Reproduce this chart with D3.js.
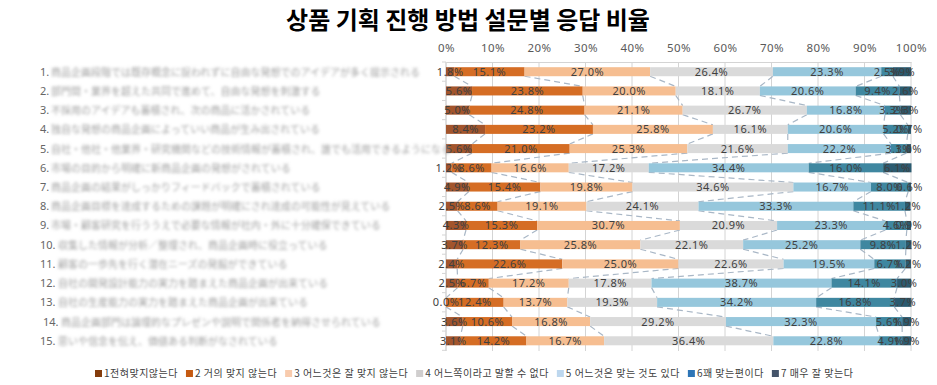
<!DOCTYPE html>
<html>
<head>
<meta charset="utf-8">
<script src="https://cdn.jsdelivr.net/npm/d3@7"></script>
<style>
  body { margin: 0; background: #fff; }
  svg { display: block; }
</style>
</head>
<body>
<div id="chart"></div>
<script>
const title = "상품 기획 진행 방법 설문별 응답 비율"

const questions = [
    "商品企画段階では既存概念に捉われずに自由な発想でのアイデアが多く提示される",
    "部門間・業界を超えた共同で進めて、自由な発想を刺激する",
    "不採用のアイデアも蓄積され、次の商品に活かされている",
    "独自な発想の商品企画によっていい商品が生み出されている",
    "自社・他社・他業界・研究機関などの技術情報が蓄積され、誰でも活用できるようになる",
    "市場の目的から明確に新商品企画の発想がされている",
    "商品企画の結果がしっかりフィードバックで蓄積されている",
    "商品企画目標を達成するための課題が明確にされ達成の可能性が見えている",
    "市場・顧客研究を行ううえで必要な情報が社内・外に十分確保できている",
    "収集した情報が分析／整理され、商品企画時に役立っている",
    "顧客の一歩先を行く潜在ニーズの発掘ができている",
    "自社の開発設計能力の実力を踏まえた商品企画が出来ている",
    "自社の生産能力の実力を踏まえた商品企画が出来ている",
    "商品企画部門は論理的なプレゼンや説明で関係者を納得させられている",
    "思いや信念を伝え、価値ある判断がなされている"
]

const categories = [
    "1전혀맞지않는다",
    "2 거의 맞지 않는다",
    "3 어느것은 잘 맞지 않는다",
    "4 어느쪽이라고 말할 수 없다",
    "5 어느것은 맞는 것도 있다",
    "6꽤 맞는편이다",
    "7 매우 잘 맞는다"
]

// one array per answer, one value per question (%)
const s1 = [1.8, 5.6, 5.0, 8.4, 5.6, 1.2, 4.9, 2.5, 4.3, 3.7, 2.4, 2.5, 0.0, 3.6, 3.1]
const s2 = [15.1, 23.8, 24.8, 23.2, 21.0, 8.6, 15.4, 8.6, 15.3, 12.3, 22.6, 6.7, 12.4, 10.6, 14.2]
const s3 = [27.0, 20.0, 21.1, 25.8, 25.3, 16.6, 19.8, 19.1, 30.7, 25.8, 25.0, 17.2, 13.7, 16.8, 16.7]
const s4 = [26.4, 18.1, 26.7, 16.1, 21.6, 17.2, 34.6, 24.1, 20.9, 22.1, 22.6, 17.8, 19.3, 29.2, 36.4]
const s5 = [23.3, 20.6, 16.8, 20.6, 22.2, 34.4, 16.7, 33.3, 23.3, 25.2, 19.5, 38.7, 34.2, 32.3, 22.8]
const s6 = [2.5, 9.4, 3.3, 5.2, 3.3, 16.0, 8.0, 11.1, 4.6, 9.8, 6.7, 14.1, 16.8, 5.6, 4.9]
const s7 = [3.9, 2.6, 2.3, 0.7, 1.0, 6.1, 0.6, 1.2, 0.9, 1.2, 1.2, 3.0, 3.7, 1.9, 1.9]

const xTicks = [0, 10, 20, 30, 40, 50, 60, 70, 80, 90, 100]

const barColors = ["#a3552c", "#d56d24", "#f6be91", "#dadada", "#96c7dc", "#3f87a0", "#2b5b70"]
const legendColors = ["#843c0c", "#c55a11", "#f8cbad", "#d0cece", "#bdd7ee", "#2e75b6", "#44546a"]

let svg_width = 937
let svg_height = 385

var margin = { top: 62, right: 26, bottom: 34, left: 446 },
    width = svg_width - margin.left - margin.right,
    height = svg_height - margin.top - margin.bottom;

const series = [s1, s2, s3, s4, s5, s6, s7]
const keys = categories.map((c, i) => "k" + i)
const rows = questions.map((q, i) => {
    let r = { name: q, idx: i }
    keys.forEach((k, j) => r[k] = series[j][i])
    return r
})
const stacked = d3.stack().keys(keys)(rows)

var root = d3.select("#chart")
    .append("svg")
    .attr("width", svg_width)
    .attr("height", svg_height)

root.append("defs").append("filter")
    .attr("id", "blur")
    .append("feGaussianBlur")
    .attr("stdDeviation", 1.5)

root.append("text")
    .attr("x", 468)
    .attr("y", 29)
    .attr("text-anchor", "middle")
    .style("font-family", "'Noto Sans CJK KR', sans-serif")
    .style("font-weight", "bold")
    .style("font-size", "24px")
    .style("fill", "#000")
    .text(title)

var svg = root.append("g")
    .attr("transform", "translate(" + margin.left + "," + margin.top + ")");

var xScale = d3.scaleLinear()
    .domain([0, 100])
    .range([0, width]);

var yScale = d3.scaleBand()
    .domain(d3.range(questions.length))
    .range([0, height - 0.5])
    .paddingInner(0.53)
    .paddingOuter(0.27);

// vertical grid lines
svg.append("g").selectAll("line").data(xTicks)
    .enter().append("line")
    .attr("x1", d => xScale(d))
    .attr("x2", d => xScale(d))
    .attr("y1", 0)
    .attr("y2", height)
    .style("stroke", "#d4d4d4")
    .style("stroke-width", 1);

// top axis labels
var xAxis = svg.append("g")
    .call(d3.axisTop(xScale).tickValues(xTicks).tickSize(0).tickPadding(10).tickFormat(d => d + "%"))
xAxis.select(".domain").attr("stroke", "#d4d4d4")
xAxis.selectAll("text")
    .style("font-family", "'Noto Sans', sans-serif")
    .style("font-size", "11.5px")
    .style("letter-spacing", "0.5px")
    .style("fill", "#595959")

// left category axis
svg.append("line")
    .attr("x1", 0).attr("x2", 0)
    .attr("y1", 0).attr("y2", height)
    .style("stroke", "#d4d4d4")
svg.append("g").selectAll("line").data(d3.range(questions.length + 1))
    .enter().append("line")
    .attr("x1", -4).attr("x2", 0)
    .attr("y1", d => d * yScale.step())
    .attr("y2", d => d * yScale.step())
    .style("stroke", "#d4d4d4")

// series lines (dashed connectors)
let bh = yScale.bandwidth()
let connectors = []
stacked.slice(0, 6).forEach(layer => {
    for (let i = 0; i < layer.length - 1; i++) {
        connectors.push({ a: layer[i][1], b: layer[i + 1][1], i: i })
    }
})
svg.append("g").selectAll("line").data(connectors)
    .enter().append("line")
    .attr("x1", d => xScale(d.a))
    .attr("y1", d => yScale(d.i) + bh)
    .attr("x2", d => xScale(d.b))
    .attr("y2", d => yScale(d.i + 1))
    .style("stroke", "#a9b7c6")
    .style("stroke-width", 1.2)
    .style("stroke-dasharray", "6,4");

// bars
svg.append("g").selectAll("g").data(stacked)
    .enter().append("g")
    .style("fill", (d, i) => barColors[i])
    .selectAll("rect").data(d => d)
    .enter().append("rect")
    .attr("x", d => xScale(d[0]))
    .attr("width", d => xScale(d[1]) - xScale(d[0]))
    .attr("y", (d, i) => yScale(i))
    .attr("height", bh);

// value labels
svg.append("g").selectAll("g").data(stacked)
    .enter().append("g")
    .selectAll("text").data(d => d)
    .enter().append("text")
    .attr("x", d => xScale((d[0] + d[1]) / 2))
    .attr("y", (d, i) => yScale(i) + bh / 2 + 4)
    .attr("text-anchor", "middle")
    .style("font-family", "'Noto Sans', sans-serif")
    .style("font-size", "11px")
    .style("letter-spacing", "0.5px")
    .style("fill", "#404040")
    .text(d => (d[1] - d[0]).toFixed(1) + "%");

// row labels (number + blurred question text)
let labels = root.append("g").selectAll("g").data(rows)
    .enter().append("g")
    .attr("transform", d => "translate(" + (d.idx == 13 ? 43 : 40) + "," + (margin.top + yScale(d.idx) + bh / 2 + 4) + ")")
labels.append("text")
    .style("font-family", "'Noto Sans', sans-serif")
    .style("font-size", "11px")
    .style("fill", "#666")
    .text(d => (d.idx + 1) + ".")
labels.append("text")
    .attr("x", d => d.idx < 9 ? 11 : 18)
    .attr("filter", "url(#blur)")
    .style("font-family", "'Noto Sans CJK JP', sans-serif")
    .style("font-size", "10px")
    .style("fill", "#a3a3a3")
    .text(d => d.name)

// legend, laid out left to right from the measured text widths
let legend = root.append("g").selectAll("g").data(categories)
    .enter().append("g")
legend.append("rect")
    .attr("width", 7).attr("height", 7)
    .attr("y", -7)
    .style("fill", (d, i) => legendColors[i])
legend.append("text")
    .attr("x", 9)
    .attr("y", 0)
    .style("font-family", "'Noto Sans CJK KR', sans-serif")
    .style("font-size", "10px")
    .style("letter-spacing", "0.5px")
    .style("fill", "#404040")
    .text(d => d)
let lx = 95
legend.each(function() {
    d3.select(this).attr("transform", "translate(" + lx + ",377)")
    lx += 9 + d3.select(this).select("text").node().getComputedTextLength() + 8
})
</script>
</body>
</html>
